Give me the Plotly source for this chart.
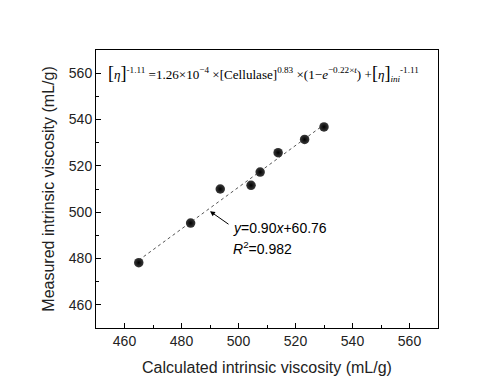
import plotly.graph_objects as go

calc = [465.0, 483.2, 493.6, 504.4, 507.6, 513.9, 523.2, 530.0]
meas = [478.2, 495.3, 510.0, 511.6, 517.3, 525.7, 531.4, 536.8]
slope, intercept = 0.90, 60.76
fit_x = [465.0, 530.0]
fit_y = [slope * v + intercept for v in fit_x]

x_title = "Calculated intrinsic viscosity (mL/g)"
y_title = "Measured intrinsic viscosity (mL/g)"
tick_vals = [460, 480, 500, 520, 540, 560]

fig = go.Figure()
fig.add_trace(go.Scatter(x=fit_x, y=fit_y, mode="lines",
                         line=dict(color="#555555", width=1, dash="dot"),
                         showlegend=False, hoverinfo="skip"))
fig.add_trace(go.Scatter(x=calc, y=meas, mode="markers",
                         marker=dict(size=9.5, color="#3a3a3a",
                                     gradient=dict(type="radial", color="#000000"),
                                     line=dict(width=0)),
                         showlegend=False))

B = '<span style="font-size:18px">'
formula = (B + "[</span><i>η</i>" + B + "]</span><sup>-1.11</sup> =1.26×10<sup>−4</sup> ×[Cellulase]<sup>0.83</sup>"
           " ×(1−<i>e</i><sup>−0.22×<i>t</i></sup>) +" + B + "[</span><i>η</i>" + B + "]</span>"
           "<sub><i>ini</i></sub><sup>-1.11</sup>")
fig.add_annotation(x=453.6, y=560, xref="x", yref="y", text=formula, showarrow=False,
                   xanchor="left", yanchor="middle",
                   font=dict(family="Liberation Serif, Times New Roman, serif", size=13.1, color="black"))

fig.add_annotation(x=490.0, y=500.4, xref="x", yref="y", text="", showarrow=True,
                   ax=20, ay=14, axref="pixel", ayref="pixel",
                   arrowhead=2, arrowsize=1, arrowwidth=1, arrowcolor="black")
fig.add_annotation(x=497.4, y=493.1, xref="x", yref="y",
                   text="<i>y</i>=0.90<i>x</i>+60.76", showarrow=False,
                   xanchor="left", yanchor="middle",
                   font=dict(family="Arial, Liberation Sans, sans-serif", size=14, color="black"))
fig.add_annotation(x=497.4, y=484.6, xref="x", yref="y",
                   text="<i>R</i><sup>2</sup>=0.982", showarrow=False,
                   xanchor="left", yanchor="middle",
                   font=dict(family="Arial, Liberation Sans, sans-serif", size=14, color="black"))

axis_common = dict(showgrid=False, zeroline=False, showline=True, linecolor="black", linewidth=1,
                   mirror=True, ticks="inside", ticklen=5, tickwidth=1, tickcolor="black",
                   tickfont=dict(family="Arial, Liberation Sans, sans-serif", size=14, color="#222222"),
                   tickvals=tick_vals, automargin=False,
                   minor=dict(ticks="inside", ticklen=3, tickwidth=1, tickcolor="black", dtick=10, tick0=450))
fig.update_xaxes(range=[450, 570], **axis_common,
                 title=dict(text=x_title, standoff=14,
                            font=dict(family="Arial, Liberation Sans, sans-serif", size=16, color="#222222")))
fig.update_yaxes(range=[450, 570], **axis_common,
                 title=dict(text=y_title, standoff=10,
                            font=dict(family="Arial, Liberation Sans, sans-serif", size=16, color="#222222")))
fig.update_layout(width=494, height=373, margin=dict(l=88, r=64, t=42, b=53),
                  plot_bgcolor="white", paper_bgcolor="white")
fig.write_html("out.html")
